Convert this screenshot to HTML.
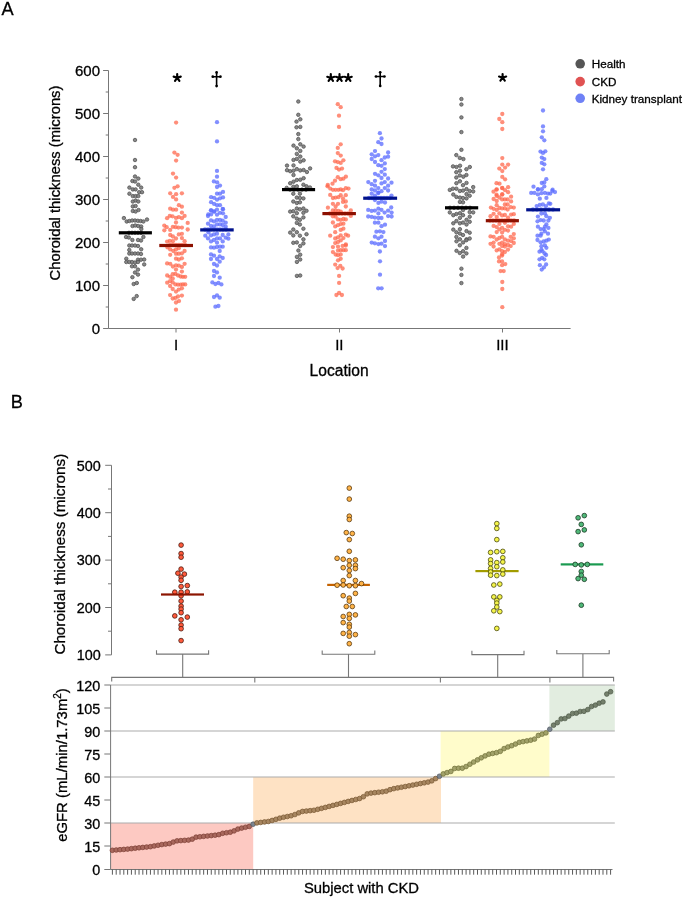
<!DOCTYPE html>
<html><head><meta charset="utf-8"><title>Choroidal thickness figure</title>
<style>html,body{margin:0;padding:0;background:#fff;}body{width:685px;height:899px;overflow:hidden;font-family:"Liberation Sans",sans-serif;}svg{display:block;will-change:transform;filter:blur(0.3px);}</style>
</head><body>
<svg width="685" height="899" viewBox="0 0 685 899"><style>text{stroke:#000;stroke-width:0.3px;fill:#000;}</style><text x="1.5" y="14.6" font-family="'Liberation Sans', sans-serif" font-size="18.2">A</text>
<path d="M108.5,70.50V328.5H570.6" fill="none" stroke="#777" stroke-width="1"/>
<path d="M103.1,328.50H108.5 M103.1,285.50H108.5 M103.1,242.50H108.5 M103.1,199.50H108.5 M103.1,156.50H108.5 M103.1,113.50H108.5 M103.1,70.50H108.5 M105.7,307.00H108.5 M105.7,264.00H108.5 M105.7,221.00H108.5 M105.7,178.00H108.5 M105.7,135.00H108.5 M105.7,92.00H108.5 M176,328.5V332.5 M339.5,328.5V332.5 M502.5,328.5V332.5" fill="none" stroke="#777" stroke-width="1"/>
<text x="100" y="333.90" text-anchor="end" font-family="'Liberation Sans', sans-serif" font-size="15">0</text>
<text x="100" y="290.90" text-anchor="end" font-family="'Liberation Sans', sans-serif" font-size="15">100</text>
<text x="100" y="247.90" text-anchor="end" font-family="'Liberation Sans', sans-serif" font-size="15">200</text>
<text x="100" y="204.90" text-anchor="end" font-family="'Liberation Sans', sans-serif" font-size="15">300</text>
<text x="100" y="161.90" text-anchor="end" font-family="'Liberation Sans', sans-serif" font-size="15">400</text>
<text x="100" y="118.90" text-anchor="end" font-family="'Liberation Sans', sans-serif" font-size="15">500</text>
<text x="100" y="75.90" text-anchor="end" font-family="'Liberation Sans', sans-serif" font-size="15">600</text>
<text x="176.1" y="349.6" text-anchor="middle" font-family="'Liberation Sans', sans-serif" font-size="15">I</text>
<text x="339.3" y="349.6" text-anchor="middle" font-family="'Liberation Sans', sans-serif" font-size="15">II</text>
<text x="502.4" y="349.6" text-anchor="middle" font-family="'Liberation Sans', sans-serif" font-size="15">III</text>
<text x="339.1" y="375.6" text-anchor="middle" font-family="'Liberation Sans', sans-serif" font-size="15.6">Location</text>
<text transform="translate(60.2,183.0) rotate(-90)" text-anchor="middle" font-family="'Liberation Sans', sans-serif" font-size="14.8">Choroidal thickness (microns)</text>
<g fill="#7e7e7e" fill-opacity="0.92" stroke="#505050" stroke-width="0.75"><circle cx="135.0" cy="140.0" r="1.75"/><circle cx="135.0" cy="160.0" r="1.75"/><circle cx="135.0" cy="167.2" r="1.75"/><circle cx="135.0" cy="176.5" r="1.75"/><circle cx="138.3" cy="178.6" r="1.75"/><circle cx="132.4" cy="181.0" r="1.75"/><circle cx="135.0" cy="181.5" r="1.75"/><circle cx="138.3" cy="184.7" r="1.75"/><circle cx="129.4" cy="187.6" r="1.75"/><circle cx="141.2" cy="187.6" r="1.75"/><circle cx="132.8" cy="189.4" r="1.75"/><circle cx="135.6" cy="189.4" r="1.75"/><circle cx="139.2" cy="192.2" r="1.75"/><circle cx="142.0" cy="192.2" r="1.75"/><circle cx="129.4" cy="193.7" r="1.75"/><circle cx="132.8" cy="196.1" r="1.75"/><circle cx="135.6" cy="196.1" r="1.75"/><circle cx="138.3" cy="196.1" r="1.75"/><circle cx="132.8" cy="201.5" r="1.75"/><circle cx="135.6" cy="200.5" r="1.75"/><circle cx="138.3" cy="201.5" r="1.75"/><circle cx="132.8" cy="206.4" r="1.75"/><circle cx="135.6" cy="206.0" r="1.75"/><circle cx="132.8" cy="211.0" r="1.75"/><circle cx="135.6" cy="211.5" r="1.75"/><circle cx="138.5" cy="210.0" r="1.75"/><circle cx="123.9" cy="218.1" r="1.75"/><circle cx="126.7" cy="221.5" r="1.75"/><circle cx="129.4" cy="221.0" r="1.75"/><circle cx="132.2" cy="220.5" r="1.75"/><circle cx="135.0" cy="220.5" r="1.75"/><circle cx="137.8" cy="220.8" r="1.75"/><circle cx="140.6" cy="221.0" r="1.75"/><circle cx="143.4" cy="221.5" r="1.75"/><circle cx="147.0" cy="219.5" r="1.75"/><circle cx="132.5" cy="226.0" r="1.75"/><circle cx="135.3" cy="225.5" r="1.75"/><circle cx="138.2" cy="226.0" r="1.75"/><circle cx="141.2" cy="226.5" r="1.75"/><circle cx="141.3" cy="229.0" r="1.75"/><circle cx="126.0" cy="237.0" r="1.75"/><circle cx="128.8" cy="237.5" r="1.75"/><circle cx="143.4" cy="237.0" r="1.75"/><circle cx="129.0" cy="232.8" r="1.75"/><circle cx="132.0" cy="232.8" r="1.75"/><circle cx="135.0" cy="232.8" r="1.75"/><circle cx="138.0" cy="232.8" r="1.75"/><circle cx="141.0" cy="232.8" r="1.75"/><circle cx="132.4" cy="240.0" r="1.75"/><circle cx="138.0" cy="240.0" r="1.75"/><circle cx="141.0" cy="240.5" r="1.75"/><circle cx="129.3" cy="245.5" r="1.75"/><circle cx="132.0" cy="245.5" r="1.75"/><circle cx="135.0" cy="245.5" r="1.75"/><circle cx="138.0" cy="246.0" r="1.75"/><circle cx="141.2" cy="249.3" r="1.75"/><circle cx="129.3" cy="250.0" r="1.75"/><circle cx="129.3" cy="253.5" r="1.75"/><circle cx="132.0" cy="253.5" r="1.75"/><circle cx="135.0" cy="253.5" r="1.75"/><circle cx="138.0" cy="253.5" r="1.75"/><circle cx="141.0" cy="254.0" r="1.75"/><circle cx="126.3" cy="258.7" r="1.75"/><circle cx="138.0" cy="259.7" r="1.75"/><circle cx="141.0" cy="259.7" r="1.75"/><circle cx="144.2" cy="259.5" r="1.75"/><circle cx="126.3" cy="262.0" r="1.75"/><circle cx="129.3" cy="262.0" r="1.75"/><circle cx="132.0" cy="262.0" r="1.75"/><circle cx="135.0" cy="262.5" r="1.75"/><circle cx="138.0" cy="262.0" r="1.75"/><circle cx="144.2" cy="264.4" r="1.75"/><circle cx="132.0" cy="266.3" r="1.75"/><circle cx="135.0" cy="266.3" r="1.75"/><circle cx="138.0" cy="269.6" r="1.75"/><circle cx="135.0" cy="272.5" r="1.75"/><circle cx="138.0" cy="274.6" r="1.75"/><circle cx="132.4" cy="277.2" r="1.75"/><circle cx="133.7" cy="284.0" r="1.75"/><circle cx="136.8" cy="283.0" r="1.75"/><circle cx="133.7" cy="298.9" r="1.75"/><circle cx="136.7" cy="296.1" r="1.75"/></g>
<g fill="#7e7e7e" fill-opacity="0.92" stroke="#505050" stroke-width="0.75"><circle cx="298.3" cy="101.5" r="1.75"/><circle cx="298.3" cy="114.8" r="1.75"/><circle cx="300.3" cy="119.3" r="1.75"/><circle cx="296.5" cy="121.6" r="1.75"/><circle cx="296.5" cy="127.3" r="1.75"/><circle cx="300.3" cy="126.9" r="1.75"/><circle cx="298.3" cy="134.1" r="1.75"/><circle cx="298.3" cy="139.1" r="1.75"/><circle cx="293.5" cy="145.6" r="1.75"/><circle cx="300.3" cy="144.3" r="1.75"/><circle cx="303.6" cy="146.6" r="1.75"/><circle cx="296.8" cy="148.3" r="1.75"/><circle cx="300.3" cy="150.9" r="1.75"/><circle cx="296.8" cy="153.9" r="1.75"/><circle cx="293.5" cy="159.9" r="1.75"/><circle cx="296.8" cy="158.9" r="1.75"/><circle cx="300.3" cy="156.6" r="1.75"/><circle cx="300.3" cy="161.6" r="1.75"/><circle cx="303.6" cy="160.3" r="1.75"/><circle cx="287.0" cy="165.6" r="1.75"/><circle cx="293.5" cy="165.4" r="1.75"/><circle cx="287.0" cy="170.2" r="1.75"/><circle cx="290.2" cy="171.2" r="1.75"/><circle cx="293.5" cy="170.7" r="1.75"/><circle cx="296.8" cy="169.1" r="1.75"/><circle cx="300.3" cy="170.4" r="1.75"/><circle cx="303.6" cy="170.0" r="1.75"/><circle cx="306.9" cy="172.0" r="1.75"/><circle cx="310.1" cy="168.4" r="1.75"/><circle cx="293.5" cy="175.0" r="1.75"/><circle cx="290.2" cy="183.2" r="1.75"/><circle cx="293.5" cy="181.7" r="1.75"/><circle cx="296.8" cy="180.0" r="1.75"/><circle cx="300.3" cy="179.7" r="1.75"/><circle cx="303.6" cy="178.2" r="1.75"/><circle cx="293.3" cy="186.7" r="1.75"/><circle cx="296.8" cy="186.3" r="1.75"/><circle cx="303.4" cy="184.7" r="1.75"/><circle cx="306.5" cy="186.3" r="1.75"/><circle cx="310.0" cy="187.5" r="1.75"/><circle cx="286.7" cy="187.9" r="1.75"/><circle cx="290.0" cy="189.6" r="1.75"/><circle cx="294.0" cy="189.6" r="1.75"/><circle cx="298.0" cy="189.6" r="1.75"/><circle cx="302.0" cy="189.6" r="1.75"/><circle cx="306.0" cy="189.6" r="1.75"/><circle cx="293.3" cy="193.7" r="1.75"/><circle cx="299.9" cy="193.7" r="1.75"/><circle cx="296.8" cy="197.6" r="1.75"/><circle cx="299.9" cy="198.0" r="1.75"/><circle cx="303.4" cy="198.4" r="1.75"/><circle cx="293.3" cy="201.5" r="1.75"/><circle cx="296.8" cy="203.0" r="1.75"/><circle cx="299.9" cy="202.3" r="1.75"/><circle cx="296.8" cy="208.5" r="1.75"/><circle cx="299.9" cy="209.3" r="1.75"/><circle cx="303.4" cy="208.5" r="1.75"/><circle cx="290.2" cy="211.6" r="1.75"/><circle cx="293.3" cy="211.2" r="1.75"/><circle cx="296.8" cy="213.2" r="1.75"/><circle cx="303.4" cy="212.8" r="1.75"/><circle cx="306.5" cy="210.8" r="1.75"/><circle cx="293.3" cy="216.3" r="1.75"/><circle cx="303.4" cy="217.4" r="1.75"/><circle cx="296.8" cy="218.6" r="1.75"/><circle cx="299.9" cy="219.8" r="1.75"/><circle cx="296.8" cy="222.9" r="1.75"/><circle cx="299.9" cy="224.5" r="1.75"/><circle cx="303.4" cy="228.7" r="1.75"/><circle cx="290.2" cy="232.6" r="1.75"/><circle cx="293.3" cy="229.5" r="1.75"/><circle cx="296.8" cy="232.2" r="1.75"/><circle cx="293.3" cy="235.4" r="1.75"/><circle cx="299.9" cy="235.7" r="1.75"/><circle cx="306.5" cy="234.2" r="1.75"/><circle cx="303.4" cy="239.3" r="1.75"/><circle cx="293.3" cy="242.8" r="1.75"/><circle cx="296.8" cy="242.4" r="1.75"/><circle cx="303.4" cy="243.4" r="1.75"/><circle cx="300.2" cy="246.0" r="1.75"/><circle cx="298.4" cy="250.5" r="1.75"/><circle cx="296.9" cy="256.9" r="1.75"/><circle cx="300.2" cy="254.7" r="1.75"/><circle cx="300.2" cy="259.5" r="1.75"/><circle cx="296.9" cy="261.9" r="1.75"/><circle cx="296.9" cy="275.9" r="1.75"/><circle cx="300.2" cy="275.5" r="1.75"/></g>
<g fill="#7e7e7e" fill-opacity="0.92" stroke="#505050" stroke-width="0.75"><circle cx="461.4" cy="99.0" r="1.75"/><circle cx="461.4" cy="104.5" r="1.75"/><circle cx="461.4" cy="117.4" r="1.75"/><circle cx="461.4" cy="132.1" r="1.75"/><circle cx="461.4" cy="149.8" r="1.75"/><circle cx="456.3" cy="155.1" r="1.75"/><circle cx="459.8" cy="157.9" r="1.75"/><circle cx="463.4" cy="159.1" r="1.75"/><circle cx="453.0" cy="166.4" r="1.75"/><circle cx="456.5" cy="167.0" r="1.75"/><circle cx="460.0" cy="165.7" r="1.75"/><circle cx="466.4" cy="169.2" r="1.75"/><circle cx="469.8" cy="167.0" r="1.75"/><circle cx="456.3" cy="172.2" r="1.75"/><circle cx="460.0" cy="170.7" r="1.75"/><circle cx="456.3" cy="177.5" r="1.75"/><circle cx="459.8" cy="175.4" r="1.75"/><circle cx="463.4" cy="176.7" r="1.75"/><circle cx="466.4" cy="175.0" r="1.75"/><circle cx="456.4" cy="183.2" r="1.75"/><circle cx="459.9" cy="181.3" r="1.75"/><circle cx="463.0" cy="185.2" r="1.75"/><circle cx="466.5" cy="182.9" r="1.75"/><circle cx="449.8" cy="189.9" r="1.75"/><circle cx="452.9" cy="188.7" r="1.75"/><circle cx="456.4" cy="188.7" r="1.75"/><circle cx="459.9" cy="191.0" r="1.75"/><circle cx="463.0" cy="190.6" r="1.75"/><circle cx="466.5" cy="189.1" r="1.75"/><circle cx="469.7" cy="191.0" r="1.75"/><circle cx="473.2" cy="191.4" r="1.75"/><circle cx="473.2" cy="187.1" r="1.75"/><circle cx="453.3" cy="194.5" r="1.75"/><circle cx="456.4" cy="196.9" r="1.75"/><circle cx="459.9" cy="197.6" r="1.75"/><circle cx="463.0" cy="198.0" r="1.75"/><circle cx="466.5" cy="198.4" r="1.75"/><circle cx="466.5" cy="194.1" r="1.75"/><circle cx="469.7" cy="195.7" r="1.75"/><circle cx="459.9" cy="201.9" r="1.75"/><circle cx="463.0" cy="202.3" r="1.75"/><circle cx="450.0" cy="207.8" r="1.75"/><circle cx="454.0" cy="207.8" r="1.75"/><circle cx="458.0" cy="207.8" r="1.75"/><circle cx="462.0" cy="207.8" r="1.75"/><circle cx="466.0" cy="207.8" r="1.75"/><circle cx="470.0" cy="207.8" r="1.75"/><circle cx="449.8" cy="212.4" r="1.75"/><circle cx="453.3" cy="215.2" r="1.75"/><circle cx="456.4" cy="214.0" r="1.75"/><circle cx="459.9" cy="213.2" r="1.75"/><circle cx="463.0" cy="215.2" r="1.75"/><circle cx="469.7" cy="212.1" r="1.75"/><circle cx="473.2" cy="212.4" r="1.75"/><circle cx="463.0" cy="210.1" r="1.75"/><circle cx="459.9" cy="217.9" r="1.75"/><circle cx="469.7" cy="216.7" r="1.75"/><circle cx="453.3" cy="223.3" r="1.75"/><circle cx="456.4" cy="221.0" r="1.75"/><circle cx="459.9" cy="223.3" r="1.75"/><circle cx="463.0" cy="222.6" r="1.75"/><circle cx="466.5" cy="219.8" r="1.75"/><circle cx="466.5" cy="224.5" r="1.75"/><circle cx="469.7" cy="221.8" r="1.75"/><circle cx="453.3" cy="229.6" r="1.75"/><circle cx="459.9" cy="229.2" r="1.75"/><circle cx="466.5" cy="231.1" r="1.75"/><circle cx="469.7" cy="232.7" r="1.75"/><circle cx="456.4" cy="232.3" r="1.75"/><circle cx="459.9" cy="233.5" r="1.75"/><circle cx="463.0" cy="235.0" r="1.75"/><circle cx="456.4" cy="236.9" r="1.75"/><circle cx="459.9" cy="239.3" r="1.75"/><circle cx="466.5" cy="239.3" r="1.75"/><circle cx="469.7" cy="238.5" r="1.75"/><circle cx="456.5" cy="241.3" r="1.75"/><circle cx="463.1" cy="242.4" r="1.75"/><circle cx="466.4" cy="240.2" r="1.75"/><circle cx="459.8" cy="245.3" r="1.75"/><circle cx="466.4" cy="247.9" r="1.75"/><circle cx="456.5" cy="250.8" r="1.75"/><circle cx="459.8" cy="253.0" r="1.75"/><circle cx="463.1" cy="251.2" r="1.75"/><circle cx="466.4" cy="253.4" r="1.75"/><circle cx="463.1" cy="256.6" r="1.75"/><circle cx="461.4" cy="268.7" r="1.75"/><circle cx="461.4" cy="274.9" r="1.75"/><circle cx="461.4" cy="283.1" r="1.75"/></g>
<g fill="#ff674c" fill-opacity="0.74"><circle cx="176.1" cy="122.6" r="2.15"/><circle cx="174.4" cy="152.6" r="2.15"/><circle cx="177.6" cy="154.8" r="2.15"/><circle cx="176.1" cy="160.6" r="2.15"/><circle cx="173.0" cy="173.6" r="2.15"/><circle cx="176.1" cy="177.6" r="2.15"/><circle cx="174.4" cy="187.8" r="2.15"/><circle cx="177.6" cy="186.3" r="2.15"/><circle cx="170.2" cy="193.3" r="2.15"/><circle cx="176.1" cy="194.2" r="2.15"/><circle cx="181.9" cy="193.3" r="2.15"/><circle cx="173.0" cy="196.9" r="2.15"/><circle cx="176.1" cy="199.4" r="2.15"/><circle cx="178.9" cy="205.2" r="2.15"/><circle cx="181.9" cy="206.7" r="2.15"/><circle cx="170.2" cy="208.7" r="2.15"/><circle cx="173.0" cy="209.7" r="2.15"/><circle cx="176.1" cy="209.7" r="2.15"/><circle cx="181.9" cy="212.6" r="2.15"/><circle cx="169.8" cy="215.9" r="2.15"/><circle cx="172.5" cy="216.3" r="2.15"/><circle cx="176.0" cy="217.9" r="2.15"/><circle cx="178.8" cy="217.1" r="2.15"/><circle cx="181.9" cy="218.2" r="2.15"/><circle cx="184.6" cy="215.9" r="2.15"/><circle cx="167.1" cy="218.2" r="2.15"/><circle cx="176.0" cy="222.5" r="2.15"/><circle cx="187.7" cy="222.9" r="2.15"/><circle cx="164.3" cy="225.6" r="2.15"/><circle cx="166.7" cy="227.2" r="2.15"/><circle cx="172.9" cy="226.8" r="2.15"/><circle cx="175.6" cy="227.2" r="2.15"/><circle cx="178.4" cy="227.6" r="2.15"/><circle cx="181.9" cy="227.6" r="2.15"/><circle cx="164.3" cy="230.3" r="2.15"/><circle cx="170.2" cy="229.9" r="2.15"/><circle cx="187.7" cy="229.5" r="2.15"/><circle cx="170.2" cy="235.0" r="2.15"/><circle cx="172.9" cy="236.5" r="2.15"/><circle cx="176.0" cy="238.5" r="2.15"/><circle cx="178.8" cy="234.4" r="2.15"/><circle cx="181.9" cy="233.8" r="2.15"/><circle cx="181.9" cy="238.1" r="2.15"/><circle cx="167.1" cy="241.6" r="2.15"/><circle cx="169.8" cy="240.8" r="2.15"/><circle cx="172.9" cy="241.2" r="2.15"/><circle cx="184.6" cy="241.2" r="2.15"/><circle cx="170.0" cy="245.0" r="2.15"/><circle cx="173.0" cy="245.0" r="2.15"/><circle cx="176.0" cy="245.0" r="2.15"/><circle cx="179.0" cy="245.0" r="2.15"/><circle cx="182.0" cy="245.0" r="2.15"/><circle cx="185.0" cy="245.0" r="2.15"/><circle cx="167.5" cy="247.4" r="2.15"/><circle cx="170.2" cy="249.4" r="2.15"/><circle cx="173.3" cy="251.0" r="2.15"/><circle cx="176.0" cy="249.4" r="2.15"/><circle cx="178.8" cy="248.2" r="2.15"/><circle cx="184.6" cy="251.0" r="2.15"/><circle cx="170.2" cy="254.8" r="2.15"/><circle cx="176.0" cy="253.7" r="2.15"/><circle cx="178.8" cy="253.7" r="2.15"/><circle cx="181.9" cy="253.3" r="2.15"/><circle cx="176.0" cy="258.7" r="2.15"/><circle cx="178.8" cy="259.5" r="2.15"/><circle cx="181.9" cy="258.3" r="2.15"/><circle cx="167.1" cy="263.4" r="2.15"/><circle cx="170.2" cy="263.8" r="2.15"/><circle cx="172.9" cy="266.5" r="2.15"/><circle cx="176.0" cy="265.4" r="2.15"/><circle cx="178.8" cy="265.7" r="2.15"/><circle cx="181.9" cy="266.9" r="2.15"/><circle cx="184.6" cy="263.8" r="2.15"/><circle cx="176.0" cy="269.6" r="2.15"/><circle cx="181.9" cy="271.6" r="2.15"/><circle cx="167.2" cy="275.5" r="2.15"/><circle cx="170.1" cy="276.8" r="2.15"/><circle cx="172.7" cy="274.2" r="2.15"/><circle cx="175.4" cy="273.9" r="2.15"/><circle cx="178.0" cy="275.5" r="2.15"/><circle cx="180.6" cy="276.5" r="2.15"/><circle cx="182.9" cy="276.8" r="2.15"/><circle cx="185.2" cy="276.8" r="2.15"/><circle cx="172.7" cy="278.5" r="2.15"/><circle cx="167.2" cy="282.7" r="2.15"/><circle cx="170.1" cy="281.1" r="2.15"/><circle cx="172.7" cy="282.4" r="2.15"/><circle cx="175.4" cy="284.4" r="2.15"/><circle cx="178.0" cy="284.7" r="2.15"/><circle cx="180.6" cy="284.7" r="2.15"/><circle cx="182.9" cy="284.4" r="2.15"/><circle cx="185.2" cy="284.4" r="2.15"/><circle cx="170.1" cy="286.0" r="2.15"/><circle cx="172.7" cy="289.0" r="2.15"/><circle cx="176.0" cy="291.6" r="2.15"/><circle cx="178.7" cy="289.6" r="2.15"/><circle cx="181.9" cy="288.3" r="2.15"/><circle cx="170.1" cy="295.1" r="2.15"/><circle cx="172.7" cy="298.5" r="2.15"/><circle cx="175.4" cy="297.9" r="2.15"/><circle cx="178.0" cy="296.5" r="2.15"/><circle cx="181.9" cy="295.6" r="2.15"/><circle cx="176.0" cy="302.5" r="2.15"/><circle cx="179.0" cy="301.1" r="2.15"/><circle cx="176.0" cy="309.7" r="2.15"/></g>
<g fill="#ff674c" fill-opacity="0.74"><circle cx="337.8" cy="104.2" r="2.15"/><circle cx="340.7" cy="107.2" r="2.15"/><circle cx="339.0" cy="115.7" r="2.15"/><circle cx="339.0" cy="126.9" r="2.15"/><circle cx="340.7" cy="144.3" r="2.15"/><circle cx="337.8" cy="147.9" r="2.15"/><circle cx="337.8" cy="153.1" r="2.15"/><circle cx="340.7" cy="155.6" r="2.15"/><circle cx="335.0" cy="161.3" r="2.15"/><circle cx="337.8" cy="162.1" r="2.15"/><circle cx="340.7" cy="162.9" r="2.15"/><circle cx="343.4" cy="160.3" r="2.15"/><circle cx="336.5" cy="167.9" r="2.15"/><circle cx="339.0" cy="169.6" r="2.15"/><circle cx="342.0" cy="168.6" r="2.15"/><circle cx="337.8" cy="177.2" r="2.15"/><circle cx="340.7" cy="179.2" r="2.15"/><circle cx="343.4" cy="178.7" r="2.15"/><circle cx="345.9" cy="176.7" r="2.15"/><circle cx="335.0" cy="180.7" r="2.15"/><circle cx="332.5" cy="183.7" r="2.15"/><circle cx="327.8" cy="185.0" r="2.15"/><circle cx="327.5" cy="186.3" r="2.15"/><circle cx="330.2" cy="188.6" r="2.15"/><circle cx="332.9" cy="189.8" r="2.15"/><circle cx="335.6" cy="189.8" r="2.15"/><circle cx="338.4" cy="189.8" r="2.15"/><circle cx="340.7" cy="189.4" r="2.15"/><circle cx="343.0" cy="190.2" r="2.15"/><circle cx="345.8" cy="188.2" r="2.15"/><circle cx="348.5" cy="188.6" r="2.15"/><circle cx="330.2" cy="194.9" r="2.15"/><circle cx="332.9" cy="198.0" r="2.15"/><circle cx="335.6" cy="197.6" r="2.15"/><circle cx="338.4" cy="197.2" r="2.15"/><circle cx="340.7" cy="195.2" r="2.15"/><circle cx="343.0" cy="198.4" r="2.15"/><circle cx="345.8" cy="195.2" r="2.15"/><circle cx="343.0" cy="201.9" r="2.15"/><circle cx="345.8" cy="201.5" r="2.15"/><circle cx="332.9" cy="203.8" r="2.15"/><circle cx="338.0" cy="203.8" r="2.15"/><circle cx="335.6" cy="206.5" r="2.15"/><circle cx="327.9" cy="207.7" r="2.15"/><circle cx="345.8" cy="206.5" r="2.15"/><circle cx="332.9" cy="210.4" r="2.15"/><circle cx="335.6" cy="210.4" r="2.15"/><circle cx="338.4" cy="210.8" r="2.15"/><circle cx="340.7" cy="211.6" r="2.15"/><circle cx="350.8" cy="210.4" r="2.15"/><circle cx="330.0" cy="213.5" r="2.15"/><circle cx="333.0" cy="213.5" r="2.15"/><circle cx="336.0" cy="213.5" r="2.15"/><circle cx="339.0" cy="213.5" r="2.15"/><circle cx="342.0" cy="213.5" r="2.15"/><circle cx="345.0" cy="213.5" r="2.15"/><circle cx="348.0" cy="213.5" r="2.15"/><circle cx="332.9" cy="216.3" r="2.15"/><circle cx="335.6" cy="216.7" r="2.15"/><circle cx="350.8" cy="215.9" r="2.15"/><circle cx="338.0" cy="219.4" r="2.15"/><circle cx="340.7" cy="219.8" r="2.15"/><circle cx="343.4" cy="219.0" r="2.15"/><circle cx="345.8" cy="219.4" r="2.15"/><circle cx="332.9" cy="222.5" r="2.15"/><circle cx="335.2" cy="226.4" r="2.15"/><circle cx="338.0" cy="225.2" r="2.15"/><circle cx="340.7" cy="224.1" r="2.15"/><circle cx="343.4" cy="223.7" r="2.15"/><circle cx="340.7" cy="229.9" r="2.15"/><circle cx="343.4" cy="228.7" r="2.15"/><circle cx="335.2" cy="232.2" r="2.15"/><circle cx="330.2" cy="235.7" r="2.15"/><circle cx="335.2" cy="238.5" r="2.15"/><circle cx="338.0" cy="237.3" r="2.15"/><circle cx="340.7" cy="235.4" r="2.15"/><circle cx="343.4" cy="238.1" r="2.15"/><circle cx="345.8" cy="234.6" r="2.15"/><circle cx="348.1" cy="235.7" r="2.15"/><circle cx="335.2" cy="243.1" r="2.15"/><circle cx="338.0" cy="242.0" r="2.15"/><circle cx="340.7" cy="240.4" r="2.15"/><circle cx="345.8" cy="244.3" r="2.15"/><circle cx="332.9" cy="247.1" r="2.15"/><circle cx="338.0" cy="246.7" r="2.15"/><circle cx="342.6" cy="245.9" r="2.15"/><circle cx="345.8" cy="245.5" r="2.15"/><circle cx="338.0" cy="250.6" r="2.15"/><circle cx="340.7" cy="250.2" r="2.15"/><circle cx="343.4" cy="250.2" r="2.15"/><circle cx="345.8" cy="250.2" r="2.15"/><circle cx="332.9" cy="252.1" r="2.15"/><circle cx="335.6" cy="254.5" r="2.15"/><circle cx="338.0" cy="255.2" r="2.15"/><circle cx="340.7" cy="254.5" r="2.15"/><circle cx="338.0" cy="260.3" r="2.15"/><circle cx="340.7" cy="258.8" r="2.15"/><circle cx="335.2" cy="264.6" r="2.15"/><circle cx="340.3" cy="265.8" r="2.15"/><circle cx="337.6" cy="268.1" r="2.15"/><circle cx="342.6" cy="268.5" r="2.15"/><circle cx="339.1" cy="275.9" r="2.15"/><circle cx="339.1" cy="282.9" r="2.15"/><circle cx="336.4" cy="295.0" r="2.15"/><circle cx="339.1" cy="293.0" r="2.15"/><circle cx="341.9" cy="295.0" r="2.15"/></g>
<g fill="#ff674c" fill-opacity="0.74"><circle cx="502.3" cy="114.0" r="2.15"/><circle cx="499.3" cy="119.0" r="2.15"/><circle cx="502.3" cy="122.2" r="2.15"/><circle cx="502.3" cy="129.0" r="2.15"/><circle cx="502.3" cy="158.1" r="2.15"/><circle cx="502.3" cy="164.6" r="2.15"/><circle cx="508.1" cy="164.6" r="2.15"/><circle cx="505.1" cy="167.6" r="2.15"/><circle cx="499.3" cy="168.6" r="2.15"/><circle cx="502.3" cy="171.1" r="2.15"/><circle cx="502.3" cy="176.9" r="2.15"/><circle cx="505.1" cy="179.3" r="2.15"/><circle cx="496.5" cy="183.2" r="2.15"/><circle cx="499.5" cy="183.7" r="2.15"/><circle cx="502.3" cy="188.0" r="2.15"/><circle cx="505.1" cy="190.2" r="2.15"/><circle cx="508.1" cy="187.2" r="2.15"/><circle cx="508.1" cy="192.2" r="2.15"/><circle cx="496.5" cy="189.7" r="2.15"/><circle cx="493.5" cy="191.7" r="2.15"/><circle cx="496.5" cy="194.7" r="2.15"/><circle cx="502.3" cy="194.2" r="2.15"/><circle cx="496.7" cy="189.3" r="2.15"/><circle cx="502.1" cy="188.1" r="2.15"/><circle cx="496.7" cy="195.9" r="2.15"/><circle cx="502.1" cy="194.7" r="2.15"/><circle cx="499.4" cy="197.5" r="2.15"/><circle cx="493.6" cy="199.0" r="2.15"/><circle cx="496.7" cy="201.0" r="2.15"/><circle cx="502.1" cy="199.4" r="2.15"/><circle cx="504.9" cy="199.4" r="2.15"/><circle cx="507.6" cy="199.4" r="2.15"/><circle cx="511.1" cy="196.7" r="2.15"/><circle cx="511.1" cy="201.4" r="2.15"/><circle cx="496.7" cy="205.2" r="2.15"/><circle cx="504.9" cy="204.5" r="2.15"/><circle cx="507.6" cy="204.5" r="2.15"/><circle cx="490.9" cy="207.6" r="2.15"/><circle cx="493.6" cy="208.8" r="2.15"/><circle cx="496.7" cy="209.9" r="2.15"/><circle cx="499.4" cy="208.0" r="2.15"/><circle cx="502.1" cy="208.4" r="2.15"/><circle cx="504.9" cy="208.4" r="2.15"/><circle cx="507.6" cy="209.5" r="2.15"/><circle cx="510.7" cy="207.2" r="2.15"/><circle cx="513.8" cy="207.6" r="2.15"/><circle cx="490.5" cy="216.2" r="2.15"/><circle cx="493.6" cy="213.8" r="2.15"/><circle cx="496.7" cy="216.9" r="2.15"/><circle cx="499.4" cy="213.4" r="2.15"/><circle cx="502.1" cy="215.4" r="2.15"/><circle cx="504.9" cy="215.0" r="2.15"/><circle cx="508.0" cy="217.7" r="2.15"/><circle cx="511.1" cy="214.6" r="2.15"/><circle cx="513.8" cy="214.2" r="2.15"/><circle cx="490.0" cy="220.5" r="2.15"/><circle cx="493.0" cy="220.5" r="2.15"/><circle cx="496.0" cy="220.5" r="2.15"/><circle cx="499.0" cy="220.5" r="2.15"/><circle cx="502.0" cy="220.5" r="2.15"/><circle cx="505.0" cy="220.5" r="2.15"/><circle cx="508.0" cy="220.5" r="2.15"/><circle cx="511.0" cy="220.5" r="2.15"/><circle cx="514.0" cy="220.5" r="2.15"/><circle cx="493.6" cy="225.9" r="2.15"/><circle cx="496.7" cy="227.1" r="2.15"/><circle cx="499.4" cy="223.9" r="2.15"/><circle cx="504.9" cy="222.8" r="2.15"/><circle cx="508.0" cy="226.3" r="2.15"/><circle cx="511.1" cy="226.7" r="2.15"/><circle cx="513.8" cy="223.9" r="2.15"/><circle cx="499.4" cy="229.4" r="2.15"/><circle cx="502.1" cy="227.8" r="2.15"/><circle cx="504.9" cy="229.8" r="2.15"/><circle cx="508.0" cy="230.6" r="2.15"/><circle cx="496.7" cy="232.1" r="2.15"/><circle cx="502.1" cy="232.5" r="2.15"/><circle cx="490.5" cy="236.4" r="2.15"/><circle cx="493.6" cy="236.8" r="2.15"/><circle cx="513.8" cy="234.1" r="2.15"/><circle cx="510.7" cy="236.8" r="2.15"/><circle cx="513.8" cy="238.3" r="2.15"/><circle cx="499.4" cy="238.0" r="2.15"/><circle cx="502.1" cy="236.8" r="2.15"/><circle cx="504.9" cy="239.5" r="2.15"/><circle cx="496.7" cy="239.5" r="2.15"/><circle cx="493.6" cy="242.6" r="2.15"/><circle cx="490.5" cy="243.8" r="2.15"/><circle cx="493.6" cy="246.5" r="2.15"/><circle cx="499.4" cy="243.8" r="2.15"/><circle cx="502.1" cy="242.6" r="2.15"/><circle cx="504.9" cy="244.2" r="2.15"/><circle cx="508.0" cy="240.7" r="2.15"/><circle cx="511.1" cy="241.1" r="2.15"/><circle cx="513.8" cy="243.0" r="2.15"/><circle cx="510.7" cy="246.1" r="2.15"/><circle cx="502.1" cy="246.1" r="2.15"/><circle cx="504.9" cy="246.5" r="2.15"/><circle cx="508.0" cy="245.0" r="2.15"/><circle cx="496.7" cy="250.4" r="2.15"/><circle cx="499.4" cy="249.3" r="2.15"/><circle cx="502.1" cy="251.2" r="2.15"/><circle cx="504.9" cy="252.0" r="2.15"/><circle cx="508.0" cy="249.6" r="2.15"/><circle cx="502.1" cy="254.3" r="2.15"/><circle cx="499.0" cy="257.5" r="2.15"/><circle cx="502.1" cy="255.5" r="2.15"/><circle cx="499.0" cy="261.4" r="2.15"/><circle cx="502.1" cy="261.4" r="2.15"/><circle cx="502.1" cy="265.2" r="2.15"/><circle cx="505.3" cy="264.1" r="2.15"/><circle cx="500.6" cy="271.1" r="2.15"/><circle cx="503.7" cy="271.1" r="2.15"/><circle cx="502.3" cy="282.0" r="2.15"/><circle cx="502.3" cy="289.0" r="2.15"/><circle cx="502.3" cy="307.2" r="2.15"/></g>
<g fill="#5f70ff" fill-opacity="0.78"><circle cx="217.0" cy="122.2" r="2.15"/><circle cx="217.0" cy="141.4" r="2.15"/><circle cx="217.0" cy="170.9" r="2.15"/><circle cx="217.0" cy="176.7" r="2.15"/><circle cx="213.9" cy="181.4" r="2.15"/><circle cx="217.2" cy="182.4" r="2.15"/><circle cx="217.0" cy="187.0" r="2.15"/><circle cx="220.0" cy="185.6" r="2.15"/><circle cx="217.0" cy="193.7" r="2.15"/><circle cx="220.0" cy="193.7" r="2.15"/><circle cx="223.0" cy="191.9" r="2.15"/><circle cx="211.1" cy="197.2" r="2.15"/><circle cx="214.1" cy="197.8" r="2.15"/><circle cx="217.0" cy="199.7" r="2.15"/><circle cx="220.0" cy="198.3" r="2.15"/><circle cx="223.0" cy="197.4" r="2.15"/><circle cx="211.1" cy="202.2" r="2.15"/><circle cx="214.1" cy="203.9" r="2.15"/><circle cx="217.0" cy="205.2" r="2.15"/><circle cx="220.0" cy="205.2" r="2.15"/><circle cx="211.1" cy="210.3" r="2.15"/><circle cx="214.1" cy="211.4" r="2.15"/><circle cx="217.0" cy="209.7" r="2.15"/><circle cx="223.0" cy="209.2" r="2.15"/><circle cx="208.3" cy="214.4" r="2.15"/><circle cx="211.1" cy="214.4" r="2.15"/><circle cx="220.0" cy="212.8" r="2.15"/><circle cx="223.0" cy="213.3" r="2.15"/><circle cx="211.0" cy="210.3" r="2.15"/><circle cx="214.0" cy="211.7" r="2.15"/><circle cx="222.7" cy="209.0" r="2.15"/><circle cx="217.0" cy="214.7" r="2.15"/><circle cx="208.0" cy="216.0" r="2.15"/><circle cx="225.7" cy="217.0" r="2.15"/><circle cx="211.0" cy="220.4" r="2.15"/><circle cx="214.0" cy="221.4" r="2.15"/><circle cx="217.0" cy="220.0" r="2.15"/><circle cx="220.0" cy="220.0" r="2.15"/><circle cx="222.7" cy="220.7" r="2.15"/><circle cx="225.7" cy="222.7" r="2.15"/><circle cx="208.0" cy="223.7" r="2.15"/><circle cx="211.0" cy="226.0" r="2.15"/><circle cx="214.0" cy="226.4" r="2.15"/><circle cx="217.0" cy="224.4" r="2.15"/><circle cx="220.0" cy="224.4" r="2.15"/><circle cx="222.7" cy="225.0" r="2.15"/><circle cx="225.7" cy="226.7" r="2.15"/><circle cx="205.0" cy="229.5" r="2.15"/><circle cx="208.0" cy="229.5" r="2.15"/><circle cx="211.0" cy="229.5" r="2.15"/><circle cx="214.0" cy="229.5" r="2.15"/><circle cx="217.0" cy="229.5" r="2.15"/><circle cx="220.0" cy="229.5" r="2.15"/><circle cx="223.0" cy="229.5" r="2.15"/><circle cx="226.0" cy="229.5" r="2.15"/><circle cx="208.4" cy="232.4" r="2.15"/><circle cx="211.0" cy="235.4" r="2.15"/><circle cx="214.0" cy="234.4" r="2.15"/><circle cx="217.0" cy="233.7" r="2.15"/><circle cx="222.7" cy="235.0" r="2.15"/><circle cx="228.4" cy="234.4" r="2.15"/><circle cx="205.3" cy="235.7" r="2.15"/><circle cx="208.0" cy="238.4" r="2.15"/><circle cx="211.0" cy="241.4" r="2.15"/><circle cx="214.0" cy="240.0" r="2.15"/><circle cx="217.0" cy="238.4" r="2.15"/><circle cx="220.0" cy="238.4" r="2.15"/><circle cx="225.7" cy="237.7" r="2.15"/><circle cx="228.4" cy="238.7" r="2.15"/><circle cx="217.0" cy="242.7" r="2.15"/><circle cx="222.7" cy="241.4" r="2.15"/><circle cx="211.0" cy="247.4" r="2.15"/><circle cx="214.0" cy="247.7" r="2.15"/><circle cx="217.0" cy="247.0" r="2.15"/><circle cx="220.0" cy="246.7" r="2.15"/><circle cx="222.7" cy="246.7" r="2.15"/><circle cx="219.7" cy="251.0" r="2.15"/><circle cx="211.0" cy="254.4" r="2.15"/><circle cx="214.0" cy="255.7" r="2.15"/><circle cx="219.7" cy="256.4" r="2.15"/><circle cx="222.7" cy="258.0" r="2.15"/><circle cx="211.0" cy="259.0" r="2.15"/><circle cx="217.0" cy="259.0" r="2.15"/><circle cx="219.7" cy="261.7" r="2.15"/><circle cx="214.0" cy="264.0" r="2.15"/><circle cx="217.0" cy="265.5" r="2.15"/><circle cx="214.0" cy="271.0" r="2.15"/><circle cx="217.0" cy="272.4" r="2.15"/><circle cx="214.0" cy="276.0" r="2.15"/><circle cx="219.7" cy="277.7" r="2.15"/><circle cx="212.4" cy="282.4" r="2.15"/><circle cx="215.4" cy="284.0" r="2.15"/><circle cx="218.4" cy="283.0" r="2.15"/><circle cx="221.4" cy="284.4" r="2.15"/><circle cx="214.0" cy="297.0" r="2.15"/><circle cx="217.0" cy="295.4" r="2.15"/><circle cx="219.7" cy="297.7" r="2.15"/><circle cx="215.4" cy="306.7" r="2.15"/><circle cx="218.4" cy="306.0" r="2.15"/></g>
<g fill="#5f70ff" fill-opacity="0.78"><circle cx="379.9" cy="133.2" r="2.15"/><circle cx="381.5" cy="138.5" r="2.15"/><circle cx="378.3" cy="142.2" r="2.15"/><circle cx="381.5" cy="144.0" r="2.15"/><circle cx="375.0" cy="151.1" r="2.15"/><circle cx="388.1" cy="152.5" r="2.15"/><circle cx="371.7" cy="154.3" r="2.15"/><circle cx="375.0" cy="156.3" r="2.15"/><circle cx="378.3" cy="155.1" r="2.15"/><circle cx="371.7" cy="159.0" r="2.15"/><circle cx="384.8" cy="157.5" r="2.15"/><circle cx="388.1" cy="156.7" r="2.15"/><circle cx="381.5" cy="160.2" r="2.15"/><circle cx="375.0" cy="162.0" r="2.15"/><circle cx="378.3" cy="165.2" r="2.15"/><circle cx="381.5" cy="165.8" r="2.15"/><circle cx="384.8" cy="163.4" r="2.15"/><circle cx="384.8" cy="169.1" r="2.15"/><circle cx="381.5" cy="171.8" r="2.15"/><circle cx="375.0" cy="173.8" r="2.15"/><circle cx="378.3" cy="175.3" r="2.15"/><circle cx="384.8" cy="174.7" r="2.15"/><circle cx="381.5" cy="178.0" r="2.15"/><circle cx="388.1" cy="178.5" r="2.15"/><circle cx="368.3" cy="182.1" r="2.15"/><circle cx="375.0" cy="180.8" r="2.15"/><circle cx="381.5" cy="183.4" r="2.15"/><circle cx="384.8" cy="182.1" r="2.15"/><circle cx="391.5" cy="182.7" r="2.15"/><circle cx="371.7" cy="184.2" r="2.15"/><circle cx="375.0" cy="185.7" r="2.15"/><circle cx="378.3" cy="188.1" r="2.15"/><circle cx="384.8" cy="188.1" r="2.15"/><circle cx="388.1" cy="185.7" r="2.15"/><circle cx="371.7" cy="189.4" r="2.15"/><circle cx="375.0" cy="190.5" r="2.15"/><circle cx="381.5" cy="191.2" r="2.15"/><circle cx="388.1" cy="190.5" r="2.15"/><circle cx="371.7" cy="193.7" r="2.15"/><circle cx="378.3" cy="193.0" r="2.15"/><circle cx="375.0" cy="195.6" r="2.15"/><circle cx="391.5" cy="195.6" r="2.15"/><circle cx="378.4" cy="192.7" r="2.15"/><circle cx="369.0" cy="198.0" r="2.15"/><circle cx="372.0" cy="198.0" r="2.15"/><circle cx="375.0" cy="198.0" r="2.15"/><circle cx="378.0" cy="198.0" r="2.15"/><circle cx="381.0" cy="198.0" r="2.15"/><circle cx="384.0" cy="198.0" r="2.15"/><circle cx="387.0" cy="198.0" r="2.15"/><circle cx="390.0" cy="198.0" r="2.15"/><circle cx="374.9" cy="200.1" r="2.15"/><circle cx="378.4" cy="202.9" r="2.15"/><circle cx="381.5" cy="201.7" r="2.15"/><circle cx="385.0" cy="202.5" r="2.15"/><circle cx="368.2" cy="209.9" r="2.15"/><circle cx="371.7" cy="210.9" r="2.15"/><circle cx="374.9" cy="210.6" r="2.15"/><circle cx="378.4" cy="208.7" r="2.15"/><circle cx="381.5" cy="209.9" r="2.15"/><circle cx="384.6" cy="212.6" r="2.15"/><circle cx="388.1" cy="210.6" r="2.15"/><circle cx="391.2" cy="207.5" r="2.15"/><circle cx="391.6" cy="212.6" r="2.15"/><circle cx="378.4" cy="213.4" r="2.15"/><circle cx="368.2" cy="216.5" r="2.15"/><circle cx="371.7" cy="216.9" r="2.15"/><circle cx="374.9" cy="217.6" r="2.15"/><circle cx="378.4" cy="218.0" r="2.15"/><circle cx="381.5" cy="218.0" r="2.15"/><circle cx="388.1" cy="216.1" r="2.15"/><circle cx="391.6" cy="216.5" r="2.15"/><circle cx="374.9" cy="222.7" r="2.15"/><circle cx="378.4" cy="222.7" r="2.15"/><circle cx="381.5" cy="226.2" r="2.15"/><circle cx="385.0" cy="224.7" r="2.15"/><circle cx="376.4" cy="231.7" r="2.15"/><circle cx="379.9" cy="231.3" r="2.15"/><circle cx="383.4" cy="232.1" r="2.15"/><circle cx="374.9" cy="236.7" r="2.15"/><circle cx="378.4" cy="238.3" r="2.15"/><circle cx="381.5" cy="236.7" r="2.15"/><circle cx="371.7" cy="242.6" r="2.15"/><circle cx="374.9" cy="243.3" r="2.15"/><circle cx="378.4" cy="244.1" r="2.15"/><circle cx="381.5" cy="243.7" r="2.15"/><circle cx="385.0" cy="241.0" r="2.15"/><circle cx="385.0" cy="246.1" r="2.15"/><circle cx="379.9" cy="251.5" r="2.15"/><circle cx="380.0" cy="261.3" r="2.15"/><circle cx="380.0" cy="274.7" r="2.15"/><circle cx="378.2" cy="288.3" r="2.15"/><circle cx="381.6" cy="288.3" r="2.15"/></g>
<g fill="#5f70ff" fill-opacity="0.78"><circle cx="543.0" cy="110.5" r="2.15"/><circle cx="543.0" cy="126.4" r="2.15"/><circle cx="543.0" cy="131.3" r="2.15"/><circle cx="541.8" cy="137.3" r="2.15"/><circle cx="544.3" cy="140.3" r="2.15"/><circle cx="540.5" cy="151.6" r="2.15"/><circle cx="543.0" cy="152.9" r="2.15"/><circle cx="545.3" cy="151.3" r="2.15"/><circle cx="541.8" cy="157.6" r="2.15"/><circle cx="544.3" cy="159.1" r="2.15"/><circle cx="541.8" cy="162.9" r="2.15"/><circle cx="544.3" cy="164.3" r="2.15"/><circle cx="543.0" cy="169.3" r="2.15"/><circle cx="546.3" cy="179.2" r="2.15"/><circle cx="541.8" cy="183.0" r="2.15"/><circle cx="544.3" cy="182.4" r="2.15"/><circle cx="533.5" cy="186.7" r="2.15"/><circle cx="544.3" cy="186.4" r="2.15"/><circle cx="538.0" cy="189.2" r="2.15"/><circle cx="541.8" cy="189.2" r="2.15"/><circle cx="552.6" cy="189.7" r="2.15"/><circle cx="537.9" cy="189.7" r="2.15"/><circle cx="531.2" cy="192.9" r="2.15"/><circle cx="534.4" cy="192.9" r="2.15"/><circle cx="537.9" cy="194.4" r="2.15"/><circle cx="541.4" cy="193.2" r="2.15"/><circle cx="544.9" cy="192.9" r="2.15"/><circle cx="548.0" cy="193.6" r="2.15"/><circle cx="550.3" cy="193.6" r="2.15"/><circle cx="552.3" cy="190.9" r="2.15"/><circle cx="555.0" cy="192.1" r="2.15"/><circle cx="539.8" cy="198.7" r="2.15"/><circle cx="546.4" cy="197.9" r="2.15"/><circle cx="536.7" cy="206.1" r="2.15"/><circle cx="539.8" cy="204.9" r="2.15"/><circle cx="542.9" cy="204.5" r="2.15"/><circle cx="546.0" cy="206.1" r="2.15"/><circle cx="548.8" cy="203.4" r="2.15"/><circle cx="550.3" cy="203.8" r="2.15"/><circle cx="533.0" cy="209.5" r="2.15"/><circle cx="537.0" cy="209.5" r="2.15"/><circle cx="541.0" cy="209.5" r="2.15"/><circle cx="545.0" cy="209.5" r="2.15"/><circle cx="549.0" cy="209.5" r="2.15"/><circle cx="553.0" cy="209.5" r="2.15"/><circle cx="541.4" cy="213.5" r="2.15"/><circle cx="544.9" cy="213.5" r="2.15"/><circle cx="537.9" cy="216.6" r="2.15"/><circle cx="546.4" cy="216.2" r="2.15"/><circle cx="549.9" cy="217.8" r="2.15"/><circle cx="537.5" cy="221.3" r="2.15"/><circle cx="540.6" cy="220.1" r="2.15"/><circle cx="543.7" cy="220.5" r="2.15"/><circle cx="548.4" cy="220.5" r="2.15"/><circle cx="546.4" cy="224.4" r="2.15"/><circle cx="537.9" cy="226.7" r="2.15"/><circle cx="540.6" cy="229.1" r="2.15"/><circle cx="543.7" cy="229.1" r="2.15"/><circle cx="544.9" cy="226.7" r="2.15"/><circle cx="548.4" cy="227.9" r="2.15"/><circle cx="541.4" cy="233.7" r="2.15"/><circle cx="544.9" cy="231.4" r="2.15"/><circle cx="548.0" cy="233.7" r="2.15"/><circle cx="537.5" cy="235.7" r="2.15"/><circle cx="540.6" cy="235.7" r="2.15"/><circle cx="537.5" cy="240.0" r="2.15"/><circle cx="540.6" cy="242.3" r="2.15"/><circle cx="543.7" cy="241.5" r="2.15"/><circle cx="546.4" cy="240.7" r="2.15"/><circle cx="548.8" cy="239.6" r="2.15"/><circle cx="541.4" cy="246.2" r="2.15"/><circle cx="544.9" cy="245.4" r="2.15"/><circle cx="546.4" cy="247.8" r="2.15"/><circle cx="541.4" cy="249.7" r="2.15"/><circle cx="539.5" cy="251.7" r="2.15"/><circle cx="542.5" cy="251.3" r="2.15"/><circle cx="544.6" cy="253.5" r="2.15"/><circle cx="546.1" cy="255.0" r="2.15"/><circle cx="539.5" cy="259.3" r="2.15"/><circle cx="542.1" cy="257.9" r="2.15"/><circle cx="544.3" cy="259.3" r="2.15"/><circle cx="539.9" cy="265.2" r="2.15"/><circle cx="546.1" cy="264.5" r="2.15"/><circle cx="543.9" cy="267.4" r="2.15"/><circle cx="541.7" cy="269.6" r="2.15"/></g>
<rect x="118.8" y="231.20" width="33.10" height="3.2" fill="#000"/>
<rect x="159.3" y="243.90" width="33.70" height="3.2" fill="#8c1000"/>
<rect x="200.2" y="228.30" width="33.50" height="3.2" fill="#00128c"/>
<rect x="282.0" y="188.00" width="33.10" height="3.2" fill="#000"/>
<rect x="322.4" y="212.00" width="33.50" height="3.2" fill="#8c1000"/>
<rect x="363.2" y="196.60" width="33.90" height="3.2" fill="#00128c"/>
<rect x="445.0" y="206.20" width="33.20" height="3.2" fill="#000"/>
<rect x="485.8" y="219.10" width="33.10" height="3.2" fill="#8c1000"/>
<rect x="526.2" y="208.20" width="33.90" height="3.2" fill="#00128c"/>
<path d="M177.20,77.80L177.20,74.05M177.20,77.80L180.77,76.64M177.20,77.80L179.40,80.83M177.20,77.80L175.00,80.83M177.20,77.80L173.63,76.64" stroke="#000" stroke-width="2.15" stroke-linecap="round" fill="none"/>
<path d="M330.80,77.90L330.80,74.15M330.80,77.90L334.37,76.74M330.80,77.90L333.00,80.93M330.80,77.90L328.60,80.93M330.80,77.90L327.23,76.74" stroke="#000" stroke-width="2.15" stroke-linecap="round" fill="none"/>
<path d="M339.50,77.90L339.50,74.15M339.50,77.90L343.07,76.74M339.50,77.90L341.70,80.93M339.50,77.90L337.30,80.93M339.50,77.90L335.93,76.74" stroke="#000" stroke-width="2.15" stroke-linecap="round" fill="none"/>
<path d="M348.20,77.90L348.20,74.15M348.20,77.90L351.77,76.74M348.20,77.90L350.40,80.93M348.20,77.90L346.00,80.93M348.20,77.90L344.63,76.74" stroke="#000" stroke-width="2.15" stroke-linecap="round" fill="none"/>
<path d="M502.60,77.70L502.60,73.95M502.60,77.70L506.17,76.54M502.60,77.70L504.80,80.73M502.60,77.70L500.40,80.73M502.60,77.70L499.03,76.54" stroke="#000" stroke-width="2.15" stroke-linecap="round" fill="none"/>
<g stroke="#000" fill="#000"><path d="M216.6,72.44999999999999V86.05000000000001M212.75,76.7H220.45" stroke-width="1.6" fill="none"/><circle cx="216.6" cy="72.44999999999999" r="1.35" stroke="none"/><circle cx="216.6" cy="86.05000000000001" r="1.35" stroke="none"/><circle cx="212.75" cy="76.7" r="1.35" stroke="none"/><circle cx="220.45" cy="76.7" r="1.35" stroke="none"/></g>
<g stroke="#000" fill="#000"><path d="M380.2,72.25V85.95M375.95,76.5H384.45" stroke-width="1.6" fill="none"/><circle cx="380.2" cy="72.25" r="1.35" stroke="none"/><circle cx="380.2" cy="85.95" r="1.35" stroke="none"/><circle cx="375.95" cy="76.5" r="1.35" stroke="none"/><circle cx="384.45" cy="76.5" r="1.35" stroke="none"/></g>
<circle cx="580.2" cy="63.8" r="4.8" fill="#555555"/>
<text x="591.7" y="68.0" font-family="'Liberation Sans', sans-serif" font-size="11.7">Health</text>
<circle cx="580.2" cy="81.6" r="4.8" fill="#e05252"/>
<text x="591.7" y="85.8" font-family="'Liberation Sans', sans-serif" font-size="11.7">CKD</text>
<circle cx="580.2" cy="98.3" r="4.8" fill="#6f81f6"/>
<text x="591.7" y="102.5" font-family="'Liberation Sans', sans-serif" font-size="11.7">Kidney transplant</text>
<text x="10.8" y="408.3" font-family="'Liberation Sans', sans-serif" font-size="18.2">B</text>
<path d="M111.5,465.30V654.90" stroke="#777" stroke-width="1" fill="none"/>
<path d="M105.2,654.90H111.5 M105.2,607.50H111.5 M105.2,560.10H111.5 M105.2,512.70H111.5 M105.2,465.30H111.5 M108.0,631.20H111.5 M108.0,583.80H111.5 M108.0,536.40H111.5 M108.0,489.00H111.5" stroke="#777" stroke-width="1" fill="none"/>
<text transform="translate(100.8,660.15) scale(1,1.03)" text-anchor="end" font-family="'Liberation Sans', sans-serif" font-size="14.4">100</text>
<text transform="translate(100.8,612.75) scale(1,1.03)" text-anchor="end" font-family="'Liberation Sans', sans-serif" font-size="14.4">200</text>
<text transform="translate(100.8,565.35) scale(1,1.03)" text-anchor="end" font-family="'Liberation Sans', sans-serif" font-size="14.4">300</text>
<text transform="translate(100.8,517.95) scale(1,1.03)" text-anchor="end" font-family="'Liberation Sans', sans-serif" font-size="14.4">400</text>
<text transform="translate(100.8,470.55) scale(1,1.03)" text-anchor="end" font-family="'Liberation Sans', sans-serif" font-size="14.4">500</text>
<text transform="translate(65.1,554.2) rotate(-90)" text-anchor="middle" font-family="'Liberation Sans', sans-serif" font-size="15.25">Choroidal thickness (microns)</text>
<path d="M156.5,650.3000000000001V654.1H208.6V650.3000000000001M182.7,654.1V677.4" stroke="#777" stroke-width="1.1" fill="none"/>
<path d="M322.2,650.4000000000001V654.2H374.8V650.4000000000001M348.5,654.2V677.4" stroke="#777" stroke-width="1.1" fill="none"/>
<path d="M471.9,650.8000000000001V654.6H524.0V650.8000000000001M497.7,654.6V677.4" stroke="#777" stroke-width="1.1" fill="none"/>
<path d="M556.8,650.0V653.8H609.2V650.0M582.9,653.8V677.4" stroke="#777" stroke-width="1.1" fill="none"/>
<path d="M111.7,681.6V677.4H613.6V681.6M254.8,677.4V682.4M440.4,677.4V682.4M549.9,677.4V682.4" stroke="#777" stroke-width="1.1" fill="none"/>
<g fill="#ff5a3c" stroke="#4a1a10" stroke-width="0.8"><circle cx="181.1" cy="545.1" r="2.35"/><circle cx="181.1" cy="553.6" r="2.35"/><circle cx="181.1" cy="557.2" r="2.35"/><circle cx="181.1" cy="569.1" r="2.35"/><circle cx="177.9" cy="573.2" r="2.35"/><circle cx="184.4" cy="574.1" r="2.35"/><circle cx="181.1" cy="577.1" r="2.35"/><circle cx="181.1" cy="580.3" r="2.35"/><circle cx="181.1" cy="586.5" r="2.35"/><circle cx="187.3" cy="585.6" r="2.35"/><circle cx="174.8" cy="592.2" r="2.35"/><circle cx="181.1" cy="592.2" r="2.35"/><circle cx="187.3" cy="591.9" r="2.35"/><circle cx="181.1" cy="595.8" r="2.35"/><circle cx="181.1" cy="601.1" r="2.35"/><circle cx="181.1" cy="606.1" r="2.35"/><circle cx="181.1" cy="609.1" r="2.35"/><circle cx="181.1" cy="612.7" r="2.35"/><circle cx="174.8" cy="615.9" r="2.35"/><circle cx="187.3" cy="617.1" r="2.35"/><circle cx="181.1" cy="619.8" r="2.35"/><circle cx="181.1" cy="625.1" r="2.35"/><circle cx="181.1" cy="628.7" r="2.35"/><circle cx="181.1" cy="640.6" r="2.35"/></g>
<rect x="161" y="593.40" width="43.00" height="2.2" fill="#8c1400"/>
<rect x="327.2" y="583.80" width="42.70" height="2.2" fill="#c46200"/>
<g fill="#ffb347" stroke="#5a3a10" stroke-width="0.8"><circle cx="349.3" cy="488.1" r="2.35"/><circle cx="349.3" cy="499.1" r="2.35"/><circle cx="349.3" cy="516.2" r="2.35"/><circle cx="349.3" cy="519.5" r="2.35"/><circle cx="346.3" cy="532.6" r="2.35"/><circle cx="352.3" cy="533.5" r="2.35"/><circle cx="349.3" cy="539.6" r="2.35"/><circle cx="349.3" cy="551.3" r="2.35"/><circle cx="337.1" cy="558.3" r="2.35"/><circle cx="343.2" cy="559.2" r="2.35"/><circle cx="349.3" cy="560.6" r="2.35"/><circle cx="355.4" cy="559.9" r="2.35"/><circle cx="349.3" cy="565.3" r="2.35"/><circle cx="355.4" cy="565.3" r="2.35"/><circle cx="343.2" cy="567.7" r="2.35"/><circle cx="355.4" cy="568.6" r="2.35"/><circle cx="349.3" cy="570.5" r="2.35"/><circle cx="349.3" cy="575.6" r="2.35"/><circle cx="343.2" cy="580.5" r="2.35"/><circle cx="355.4" cy="580.5" r="2.35"/><circle cx="361.5" cy="583.6" r="2.35"/><circle cx="337.1" cy="585.2" r="2.35"/><circle cx="343.2" cy="585.0" r="2.35"/><circle cx="349.3" cy="585.7" r="2.35"/><circle cx="355.4" cy="585.7" r="2.35"/><circle cx="355.4" cy="593.4" r="2.35"/><circle cx="343.2" cy="595.7" r="2.35"/><circle cx="349.3" cy="598.1" r="2.35"/><circle cx="349.3" cy="601.1" r="2.35"/><circle cx="346.3" cy="606.5" r="2.35"/><circle cx="352.3" cy="606.5" r="2.35"/><circle cx="349.3" cy="614.4" r="2.35"/><circle cx="355.4" cy="614.9" r="2.35"/><circle cx="343.2" cy="616.5" r="2.35"/><circle cx="349.3" cy="618.4" r="2.35"/><circle cx="343.2" cy="622.6" r="2.35"/><circle cx="349.3" cy="624.3" r="2.35"/><circle cx="349.3" cy="627.1" r="2.35"/><circle cx="343.2" cy="633.4" r="2.35"/><circle cx="349.3" cy="632.5" r="2.35"/><circle cx="349.3" cy="636.2" r="2.35"/><circle cx="355.4" cy="634.6" r="2.35"/><circle cx="349.3" cy="643.7" r="2.35"/></g>
<rect x="475.4" y="570.00" width="43.20" height="2.2" fill="#a29c00"/>
<g fill="#f4f44a" stroke="#4a4a10" stroke-width="0.8"><circle cx="496.8" cy="523.6" r="2.35"/><circle cx="496.8" cy="528.4" r="2.35"/><circle cx="496.8" cy="539.6" r="2.35"/><circle cx="490.6" cy="552.4" r="2.35"/><circle cx="496.8" cy="551.7" r="2.35"/><circle cx="502.8" cy="551.4" r="2.35"/><circle cx="502.8" cy="557.8" r="2.35"/><circle cx="490.6" cy="559.9" r="2.35"/><circle cx="490.6" cy="563.6" r="2.35"/><circle cx="496.8" cy="562.6" r="2.35"/><circle cx="502.8" cy="562.0" r="2.35"/><circle cx="496.8" cy="566.7" r="2.35"/><circle cx="490.6" cy="568.4" r="2.35"/><circle cx="490.6" cy="572.0" r="2.35"/><circle cx="502.8" cy="569.9" r="2.35"/><circle cx="490.6" cy="575.2" r="2.35"/><circle cx="496.8" cy="575.6" r="2.35"/><circle cx="502.8" cy="574.1" r="2.35"/><circle cx="493.8" cy="585.0" r="2.35"/><circle cx="499.8" cy="584.1" r="2.35"/><circle cx="493.8" cy="596.9" r="2.35"/><circle cx="499.8" cy="596.9" r="2.35"/><circle cx="496.8" cy="600.4" r="2.35"/><circle cx="496.8" cy="603.1" r="2.35"/><circle cx="496.8" cy="607.0" r="2.35"/><circle cx="493.8" cy="610.8" r="2.35"/><circle cx="499.8" cy="611.6" r="2.35"/><circle cx="496.8" cy="628.4" r="2.35"/></g>
<rect x="560.7" y="563.30" width="42.60" height="2.2" fill="#1a9a50"/>
<g fill="#4fb878" stroke="#1a3a25" stroke-width="0.8"><circle cx="578.1" cy="517.8" r="2.35"/><circle cx="584.3" cy="515.6" r="2.35"/><circle cx="581.3" cy="524.4" r="2.35"/><circle cx="578.1" cy="531.6" r="2.35"/><circle cx="584.3" cy="529.9" r="2.35"/><circle cx="581.3" cy="544.8" r="2.35"/><circle cx="575.2" cy="564.4" r="2.35"/><circle cx="581.3" cy="564.9" r="2.35"/><circle cx="587.3" cy="564.4" r="2.35"/><circle cx="581.3" cy="571.5" r="2.35"/><circle cx="581.3" cy="575.2" r="2.35"/><circle cx="578.1" cy="578.6" r="2.35"/><circle cx="584.3" cy="579.3" r="2.35"/><circle cx="581.3" cy="605.2" r="2.35"/></g>
<rect x="110.6" y="823.00" width="142.60" height="46.00" fill="#fdc9c2"/>
<rect x="253.2" y="777.00" width="187.80" height="46.00" fill="#fee2c4"/>
<rect x="440.6" y="731.00" width="108.80" height="46.00" fill="#fffccb"/>
<rect x="549.4" y="685.00" width="65.40" height="46.00" fill="#e2ede0"/>
<path d="M110.6,823.00H614.8 M110.6,777.00H614.8 M110.6,731.00H614.8 M110.6,685.00H614.8" stroke="#ababab" stroke-width="1" fill="none"/>
<path d="M110.6,685.00V869.5H612.5" stroke="#777" stroke-width="1" fill="none"/>
<path d="M104.3,869.50H110.6 M104.3,846.00H110.6 M104.3,823.00H110.6 M104.3,800.00H110.6 M104.3,777.00H110.6 M104.3,754.00H110.6 M104.3,731.00H110.6 M104.3,708.00H110.6 M104.3,685.00H110.6" stroke="#777" stroke-width="1" fill="none"/>
<path d="M112.40,869.5V874.7 M116.20,869.5V874.7 M120.01,869.5V874.7 M123.81,869.5V874.7 M127.61,869.5V874.7 M131.42,869.5V874.7 M135.22,869.5V874.7 M139.02,869.5V874.7 M142.82,869.5V874.7 M146.63,869.5V874.7 M150.43,869.5V874.7 M154.23,869.5V874.7 M158.04,869.5V874.7 M161.84,869.5V874.7 M165.64,869.5V874.7 M169.44,869.5V874.7 M173.25,869.5V874.7 M177.05,869.5V874.7 M180.85,869.5V874.7 M184.66,869.5V874.7 M188.46,869.5V874.7 M192.26,869.5V874.7 M196.07,869.5V874.7 M199.87,869.5V874.7 M203.67,869.5V874.7 M207.48,869.5V874.7 M211.28,869.5V874.7 M215.08,869.5V874.7 M218.88,869.5V874.7 M222.69,869.5V874.7 M226.49,869.5V874.7 M230.29,869.5V874.7 M234.10,869.5V874.7 M237.90,869.5V874.7 M241.70,869.5V874.7 M245.50,869.5V874.7 M249.31,869.5V874.7 M253.11,869.5V874.7 M256.91,869.5V874.7 M260.72,869.5V874.7 M264.52,869.5V874.7 M268.32,869.5V874.7 M272.13,869.5V874.7 M275.93,869.5V874.7 M279.73,869.5V874.7 M283.53,869.5V874.7 M287.34,869.5V874.7 M291.14,869.5V874.7 M294.94,869.5V874.7 M298.75,869.5V874.7 M302.55,869.5V874.7 M306.35,869.5V874.7 M310.16,869.5V874.7 M313.96,869.5V874.7 M317.76,869.5V874.7 M321.56,869.5V874.7 M325.37,869.5V874.7 M329.17,869.5V874.7 M332.97,869.5V874.7 M336.78,869.5V874.7 M340.58,869.5V874.7 M344.38,869.5V874.7 M348.19,869.5V874.7 M351.99,869.5V874.7 M355.79,869.5V874.7 M359.60,869.5V874.7 M363.40,869.5V874.7 M367.20,869.5V874.7 M371.00,869.5V874.7 M374.81,869.5V874.7 M378.61,869.5V874.7 M382.41,869.5V874.7 M386.22,869.5V874.7 M390.02,869.5V874.7 M393.82,869.5V874.7 M397.62,869.5V874.7 M401.43,869.5V874.7 M405.23,869.5V874.7 M409.03,869.5V874.7 M412.84,869.5V874.7 M416.64,869.5V874.7 M420.44,869.5V874.7 M424.25,869.5V874.7 M428.05,869.5V874.7 M431.85,869.5V874.7 M435.65,869.5V874.7 M439.46,869.5V874.7 M443.26,869.5V874.7 M447.06,869.5V874.7 M450.87,869.5V874.7 M454.67,869.5V874.7 M458.47,869.5V874.7 M462.28,869.5V874.7 M466.08,869.5V874.7 M469.88,869.5V874.7 M473.68,869.5V874.7 M477.49,869.5V874.7 M481.29,869.5V874.7 M485.09,869.5V874.7 M488.90,869.5V874.7 M492.70,869.5V874.7 M496.50,869.5V874.7 M500.31,869.5V874.7 M504.11,869.5V874.7 M507.91,869.5V874.7 M511.72,869.5V874.7 M515.52,869.5V874.7 M519.32,869.5V874.7 M523.12,869.5V874.7 M526.93,869.5V874.7 M530.73,869.5V874.7 M534.53,869.5V874.7 M538.34,869.5V874.7 M542.14,869.5V874.7 M545.94,869.5V874.7 M549.75,869.5V874.7 M553.55,869.5V874.7 M557.35,869.5V874.7 M561.15,869.5V874.7 M564.96,869.5V874.7 M568.76,869.5V874.7 M572.56,869.5V874.7 M576.37,869.5V874.7 M580.17,869.5V874.7 M583.97,869.5V874.7 M587.77,869.5V874.7 M591.58,869.5V874.7 M595.38,869.5V874.7 M599.18,869.5V874.7 M602.99,869.5V874.7 M606.79,869.5V874.7 M610.59,869.5V874.7" stroke="#5a5a5a" stroke-width="1" fill="none"/>
<text transform="translate(100.3,874.80) scale(1,1.05)" text-anchor="end" font-family="'Liberation Sans', sans-serif" font-size="14.4">0</text>
<text transform="translate(100.3,851.80) scale(1,1.05)" text-anchor="end" font-family="'Liberation Sans', sans-serif" font-size="14.4">15</text>
<text transform="translate(100.3,828.80) scale(1,1.05)" text-anchor="end" font-family="'Liberation Sans', sans-serif" font-size="14.4">30</text>
<text transform="translate(100.3,805.80) scale(1,1.05)" text-anchor="end" font-family="'Liberation Sans', sans-serif" font-size="14.4">45</text>
<text transform="translate(100.3,782.80) scale(1,1.05)" text-anchor="end" font-family="'Liberation Sans', sans-serif" font-size="14.4">60</text>
<text transform="translate(100.3,759.80) scale(1,1.05)" text-anchor="end" font-family="'Liberation Sans', sans-serif" font-size="14.4">75</text>
<text transform="translate(100.3,736.80) scale(1,1.05)" text-anchor="end" font-family="'Liberation Sans', sans-serif" font-size="14.4">90</text>
<text transform="translate(100.3,713.80) scale(1,1.05)" text-anchor="end" font-family="'Liberation Sans', sans-serif" font-size="14.4">105</text>
<text transform="translate(100.3,690.80) scale(1,1.05)" text-anchor="end" font-family="'Liberation Sans', sans-serif" font-size="14.4">120</text>
<text x="361.5" y="893.4" text-anchor="middle" font-family="'Liberation Sans', sans-serif" font-size="14.8">Subject with CKD</text>
<text transform="translate(67.3,765) rotate(-90)" text-anchor="middle" font-family="'Liberation Sans', sans-serif" font-size="14.9">eGFR (mL/min/1.73m<tspan dy="-6" font-size="10">2</tspan><tspan dy="6">)</tspan></text>
<g stroke-width="0.7"><circle cx="112.40" cy="850.30" r="2.35" fill="#a8685d" stroke="#7a3c32"/><circle cx="116.20" cy="850.00" r="2.35" fill="#a8685d" stroke="#7a3c32"/><circle cx="120.01" cy="849.70" r="2.35" fill="#a8685d" stroke="#7a3c32"/><circle cx="123.81" cy="849.40" r="2.35" fill="#a8685d" stroke="#7a3c32"/><circle cx="127.61" cy="849.10" r="2.35" fill="#a8685d" stroke="#7a3c32"/><circle cx="131.42" cy="848.66" r="2.35" fill="#a8685d" stroke="#7a3c32"/><circle cx="135.22" cy="848.22" r="2.35" fill="#a8685d" stroke="#7a3c32"/><circle cx="139.02" cy="847.79" r="2.35" fill="#a8685d" stroke="#7a3c32"/><circle cx="142.82" cy="847.42" r="2.35" fill="#a8685d" stroke="#7a3c32"/><circle cx="146.63" cy="847.05" r="2.35" fill="#a8685d" stroke="#7a3c32"/><circle cx="150.43" cy="846.68" r="2.35" fill="#a8685d" stroke="#7a3c32"/><circle cx="154.23" cy="845.97" r="2.35" fill="#a8685d" stroke="#7a3c32"/><circle cx="158.04" cy="845.26" r="2.35" fill="#a8685d" stroke="#7a3c32"/><circle cx="161.84" cy="844.57" r="2.35" fill="#a8685d" stroke="#7a3c32"/><circle cx="165.64" cy="844.11" r="2.35" fill="#a8685d" stroke="#7a3c32"/><circle cx="169.44" cy="843.64" r="2.35" fill="#a8685d" stroke="#7a3c32"/><circle cx="173.25" cy="842.06" r="2.35" fill="#a8685d" stroke="#7a3c32"/><circle cx="177.05" cy="840.87" r="2.35" fill="#a8685d" stroke="#7a3c32"/><circle cx="180.85" cy="840.61" r="2.35" fill="#a8685d" stroke="#7a3c32"/><circle cx="184.66" cy="840.34" r="2.35" fill="#a8685d" stroke="#7a3c32"/><circle cx="188.46" cy="840.08" r="2.35" fill="#a8685d" stroke="#7a3c32"/><circle cx="192.26" cy="839.14" r="2.35" fill="#a8685d" stroke="#7a3c32"/><circle cx="196.07" cy="837.14" r="2.35" fill="#a8685d" stroke="#7a3c32"/><circle cx="199.87" cy="836.76" r="2.35" fill="#a8685d" stroke="#7a3c32"/><circle cx="203.67" cy="836.37" r="2.35" fill="#a8685d" stroke="#7a3c32"/><circle cx="207.48" cy="835.98" r="2.35" fill="#a8685d" stroke="#7a3c32"/><circle cx="211.28" cy="835.59" r="2.35" fill="#a8685d" stroke="#7a3c32"/><circle cx="215.08" cy="835.21" r="2.35" fill="#a8685d" stroke="#7a3c32"/><circle cx="218.88" cy="834.63" r="2.35" fill="#a8685d" stroke="#7a3c32"/><circle cx="222.69" cy="833.30" r="2.35" fill="#a8685d" stroke="#7a3c32"/><circle cx="226.49" cy="832.75" r="2.35" fill="#a8685d" stroke="#7a3c32"/><circle cx="230.29" cy="832.20" r="2.35" fill="#a8685d" stroke="#7a3c32"/><circle cx="234.10" cy="830.87" r="2.35" fill="#a8685d" stroke="#7a3c32"/><circle cx="237.90" cy="829.08" r="2.35" fill="#a8685d" stroke="#7a3c32"/><circle cx="241.70" cy="828.09" r="2.35" fill="#a8685d" stroke="#7a3c32"/><circle cx="245.50" cy="827.25" r="2.35" fill="#a8685d" stroke="#7a3c32"/><circle cx="249.31" cy="826.41" r="2.35" fill="#a8685d" stroke="#7a3c32"/><circle cx="253.11" cy="824.20" r="2.35" fill="#7c8590" stroke="#4f5660"/><circle cx="256.91" cy="822.93" r="2.35" fill="#a78660" stroke="#76552f"/><circle cx="260.72" cy="822.44" r="2.35" fill="#a78660" stroke="#76552f"/><circle cx="264.52" cy="821.96" r="2.35" fill="#a78660" stroke="#76552f"/><circle cx="268.32" cy="821.48" r="2.35" fill="#a78660" stroke="#76552f"/><circle cx="272.13" cy="820.45" r="2.35" fill="#a78660" stroke="#76552f"/><circle cx="275.93" cy="819.30" r="2.35" fill="#a78660" stroke="#76552f"/><circle cx="279.73" cy="818.15" r="2.35" fill="#a78660" stroke="#76552f"/><circle cx="283.53" cy="817.27" r="2.35" fill="#a78660" stroke="#76552f"/><circle cx="287.34" cy="816.51" r="2.35" fill="#a78660" stroke="#76552f"/><circle cx="291.14" cy="815.75" r="2.35" fill="#a78660" stroke="#76552f"/><circle cx="294.94" cy="814.51" r="2.35" fill="#a78660" stroke="#76552f"/><circle cx="298.75" cy="812.87" r="2.35" fill="#a78660" stroke="#76552f"/><circle cx="302.55" cy="811.43" r="2.35" fill="#a78660" stroke="#76552f"/><circle cx="306.35" cy="811.05" r="2.35" fill="#a78660" stroke="#76552f"/><circle cx="310.16" cy="810.67" r="2.35" fill="#a78660" stroke="#76552f"/><circle cx="313.96" cy="810.26" r="2.35" fill="#a78660" stroke="#76552f"/><circle cx="317.76" cy="809.31" r="2.35" fill="#a78660" stroke="#76552f"/><circle cx="321.56" cy="808.36" r="2.35" fill="#a78660" stroke="#76552f"/><circle cx="325.37" cy="807.41" r="2.35" fill="#a78660" stroke="#76552f"/><circle cx="329.17" cy="806.40" r="2.35" fill="#a78660" stroke="#76552f"/><circle cx="332.97" cy="805.39" r="2.35" fill="#a78660" stroke="#76552f"/><circle cx="336.78" cy="804.39" r="2.35" fill="#a78660" stroke="#76552f"/><circle cx="340.58" cy="803.40" r="2.35" fill="#a78660" stroke="#76552f"/><circle cx="344.38" cy="802.41" r="2.35" fill="#a78660" stroke="#76552f"/><circle cx="348.19" cy="801.42" r="2.35" fill="#a78660" stroke="#76552f"/><circle cx="351.99" cy="800.45" r="2.35" fill="#a78660" stroke="#76552f"/><circle cx="355.79" cy="799.49" r="2.35" fill="#a78660" stroke="#76552f"/><circle cx="359.60" cy="798.53" r="2.35" fill="#a78660" stroke="#76552f"/><circle cx="363.40" cy="796.73" r="2.35" fill="#a78660" stroke="#76552f"/><circle cx="367.20" cy="793.87" r="2.35" fill="#a78660" stroke="#76552f"/><circle cx="371.00" cy="793.11" r="2.35" fill="#a78660" stroke="#76552f"/><circle cx="374.81" cy="792.67" r="2.35" fill="#a78660" stroke="#76552f"/><circle cx="378.61" cy="792.23" r="2.35" fill="#a78660" stroke="#76552f"/><circle cx="382.41" cy="791.78" r="2.35" fill="#a78660" stroke="#76552f"/><circle cx="386.22" cy="791.19" r="2.35" fill="#a78660" stroke="#76552f"/><circle cx="390.02" cy="789.67" r="2.35" fill="#a78660" stroke="#76552f"/><circle cx="393.82" cy="788.62" r="2.35" fill="#a78660" stroke="#76552f"/><circle cx="397.62" cy="787.93" r="2.35" fill="#a78660" stroke="#76552f"/><circle cx="401.43" cy="787.24" r="2.35" fill="#a78660" stroke="#76552f"/><circle cx="405.23" cy="786.55" r="2.35" fill="#a78660" stroke="#76552f"/><circle cx="409.03" cy="785.81" r="2.35" fill="#a78660" stroke="#76552f"/><circle cx="412.84" cy="785.05" r="2.35" fill="#a78660" stroke="#76552f"/><circle cx="416.64" cy="784.29" r="2.35" fill="#a78660" stroke="#76552f"/><circle cx="420.44" cy="783.55" r="2.35" fill="#a78660" stroke="#76552f"/><circle cx="424.25" cy="782.82" r="2.35" fill="#a78660" stroke="#76552f"/><circle cx="428.05" cy="782.09" r="2.35" fill="#a78660" stroke="#76552f"/><circle cx="431.85" cy="780.85" r="2.35" fill="#a78660" stroke="#76552f"/><circle cx="435.65" cy="778.57" r="2.35" fill="#a78660" stroke="#76552f"/><circle cx="439.46" cy="776.26" r="2.35" fill="#7c8590" stroke="#4f5660"/><circle cx="443.26" cy="773.90" r="2.35" fill="#a2a26a" stroke="#6f6f36"/><circle cx="447.06" cy="772.58" r="2.35" fill="#a2a26a" stroke="#6f6f36"/><circle cx="450.87" cy="771.45" r="2.35" fill="#a2a26a" stroke="#6f6f36"/><circle cx="454.67" cy="768.46" r="2.35" fill="#a2a26a" stroke="#6f6f36"/><circle cx="458.47" cy="768.20" r="2.35" fill="#a2a26a" stroke="#6f6f36"/><circle cx="462.28" cy="768.20" r="2.35" fill="#a2a26a" stroke="#6f6f36"/><circle cx="466.08" cy="766.53" r="2.35" fill="#a2a26a" stroke="#6f6f36"/><circle cx="469.88" cy="764.23" r="2.35" fill="#a2a26a" stroke="#6f6f36"/><circle cx="473.68" cy="762.02" r="2.35" fill="#a2a26a" stroke="#6f6f36"/><circle cx="477.49" cy="759.87" r="2.35" fill="#a2a26a" stroke="#6f6f36"/><circle cx="481.29" cy="757.80" r="2.35" fill="#a2a26a" stroke="#6f6f36"/><circle cx="485.09" cy="755.90" r="2.35" fill="#a2a26a" stroke="#6f6f36"/><circle cx="488.90" cy="754.18" r="2.35" fill="#a2a26a" stroke="#6f6f36"/><circle cx="492.70" cy="753.42" r="2.35" fill="#a2a26a" stroke="#6f6f36"/><circle cx="496.50" cy="752.66" r="2.35" fill="#a2a26a" stroke="#6f6f36"/><circle cx="500.31" cy="751.36" r="2.35" fill="#a2a26a" stroke="#6f6f36"/><circle cx="504.11" cy="748.58" r="2.35" fill="#a2a26a" stroke="#6f6f36"/><circle cx="507.91" cy="746.98" r="2.35" fill="#a2a26a" stroke="#6f6f36"/><circle cx="511.72" cy="745.70" r="2.35" fill="#a2a26a" stroke="#6f6f36"/><circle cx="515.52" cy="744.04" r="2.35" fill="#a2a26a" stroke="#6f6f36"/><circle cx="519.32" cy="742.30" r="2.35" fill="#a2a26a" stroke="#6f6f36"/><circle cx="523.12" cy="741.60" r="2.35" fill="#a2a26a" stroke="#6f6f36"/><circle cx="526.93" cy="740.90" r="2.35" fill="#a2a26a" stroke="#6f6f36"/><circle cx="530.73" cy="740.20" r="2.35" fill="#a2a26a" stroke="#6f6f36"/><circle cx="534.53" cy="739.08" r="2.35" fill="#a2a26a" stroke="#6f6f36"/><circle cx="538.34" cy="735.45" r="2.35" fill="#a2a26a" stroke="#6f6f36"/><circle cx="542.14" cy="734.17" r="2.35" fill="#a2a26a" stroke="#6f6f36"/><circle cx="545.94" cy="732.89" r="2.35" fill="#a2a26a" stroke="#6f6f36"/><circle cx="549.75" cy="729.25" r="2.35" fill="#7c8590" stroke="#4f5660"/><circle cx="553.55" cy="725.20" r="2.35" fill="#74806c" stroke="#4c5846"/><circle cx="557.35" cy="722.65" r="2.35" fill="#74806c" stroke="#4c5846"/><circle cx="561.15" cy="718.94" r="2.35" fill="#74806c" stroke="#4c5846"/><circle cx="564.96" cy="718.52" r="2.35" fill="#74806c" stroke="#4c5846"/><circle cx="568.76" cy="716.13" r="2.35" fill="#74806c" stroke="#4c5846"/><circle cx="572.56" cy="713.48" r="2.35" fill="#74806c" stroke="#4c5846"/><circle cx="576.37" cy="713.17" r="2.35" fill="#74806c" stroke="#4c5846"/><circle cx="580.17" cy="711.51" r="2.35" fill="#74806c" stroke="#4c5846"/><circle cx="583.97" cy="711.31" r="2.35" fill="#74806c" stroke="#4c5846"/><circle cx="587.77" cy="709.61" r="2.35" fill="#74806c" stroke="#4c5846"/><circle cx="591.58" cy="706.48" r="2.35" fill="#74806c" stroke="#4c5846"/><circle cx="595.38" cy="705.11" r="2.35" fill="#74806c" stroke="#4c5846"/><circle cx="599.18" cy="703.21" r="2.35" fill="#74806c" stroke="#4c5846"/><circle cx="602.99" cy="701.90" r="2.35" fill="#74806c" stroke="#4c5846"/><circle cx="606.79" cy="694.06" r="2.35" fill="#74806c" stroke="#4c5846"/><circle cx="610.59" cy="691.72" r="2.35" fill="#74806c" stroke="#4c5846"/></g></svg>
</body></html>
